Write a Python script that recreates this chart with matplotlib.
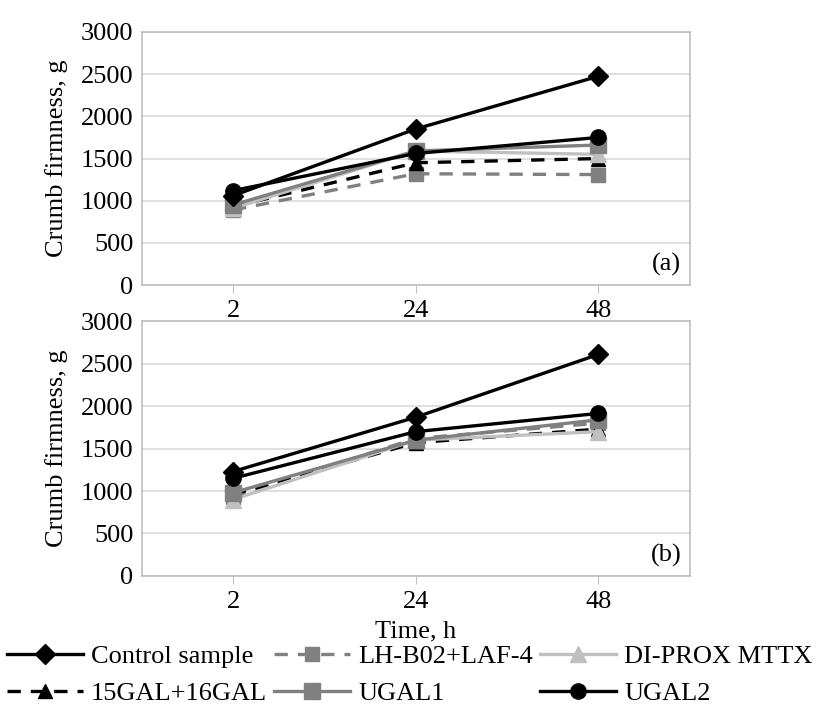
import numpy as np
import matplotlib
matplotlib.use('Agg')
import matplotlib.pyplot as plt

plt.rcParams['font.family'] = ['Liberation Serif', 'DejaVu Serif']

times = ['2', '24', '48']
series_names = ['Control sample', 'LH-B02+LAF-4', 'DI-PROX MTTX',
                '15GAL+16GAL', 'UGAL1', 'UGAL2']

# panel (a)
control_a = [1060, 1850, 2475]
lhb02_a = [890, 1320, 1310]
diprox_a = [910, 1590, 1550]
gal15_a = [930, 1450, 1500]
ugal1_a = [950, 1590, 1660]
ugal2_a = [1120, 1560, 1750]

# panel (b)
control_b = [1230, 1870, 2610]
lhb02_b = [930, 1620, 1800]
diprox_b = [900, 1600, 1700]
gal15_b = [960, 1570, 1730]
ugal1_b = [980, 1600, 1840]
ugal2_b = [1150, 1700, 1915]

styles = {
    'Control sample': dict(color='black', ls='-', marker='D', ms=10),
    'LH-B02+LAF-4': dict(color='#808080', ls=(0, (4, 3)), marker='s', ms=10),
    'DI-PROX MTTX': dict(color='#c0c0c0', ls='-', marker='^', ms=11),
    '15GAL+16GAL': dict(color='black', ls=(0, (4, 3)), marker='^', ms=10),
    'UGAL1': dict(color='#808080', ls='-', marker='s', ms=11),
    'UGAL2': dict(color='black', ls='-', marker='o', ms=11),
}

fig = plt.figure(figsize=(8.19, 7.11), dpi=100)
ax_a = fig.add_axes([0.173, 0.599, 0.669, 0.356])
ax_b = fig.add_axes([0.173, 0.190, 0.669, 0.358])

panels = [
    (ax_a, [control_a, lhb02_a, diprox_a, gal15_a, ugal1_a, ugal2_a], '(a)'),
    (ax_b, [control_b, lhb02_b, diprox_b, gal15_b, ugal1_b, ugal2_b], '(b)'),
]

x = np.arange(len(times))
handles = {}
draw_order = ['LH-B02+LAF-4', '15GAL+16GAL', 'DI-PROX MTTX', 'UGAL1',
              'UGAL2', 'Control sample']
for ax, data, tag in panels:
    values = dict(zip(series_names, data))
    for name in draw_order:
        st = styles[name]
        line, = ax.plot(x, values[name], color=st['color'], linestyle=st['ls'],
                        marker=st['marker'], markersize=st['ms'], lw=2.4,
                        markerfacecolor=st['color'], markeredgecolor=st['color'],
                        label=name)
        handles[name] = line
    ax.set_xlim(-0.5, 2.5)
    ax.set_ylim(0, 3000)
    ax.set_yticks(range(0, 3001, 500))
    ax.set_xticks(x)
    ax.set_xticklabels(times)
    ax.grid(axis='y', color='#d9d9d9', lw=1.2)
    ax.set_axisbelow(True)
    for sp in ax.spines.values():
        sp.set_color('#bfbfbf')
        sp.set_linewidth(1.2)
    ax.tick_params(axis='y', length=0, labelsize=19, pad=6)
    ax.tick_params(axis='x', length=6, color='#bfbfbf', labelsize=19, pad=5)
    ax.set_ylabel('Crumb firmness, g', fontsize=19, labelpad=9)
    ax.text(0.985, 0.035, tag, transform=ax.transAxes, ha='right', va='bottom',
            fontsize=19)

ax_b.set_xlabel('Time, h', fontsize=19, labelpad=5)

# legend is filled row-wise in the picture, matplotlib fills column-wise
order = ['Control sample', '15GAL+16GAL', 'LH-B02+LAF-4', 'UGAL1',
         'DI-PROX MTTX', 'UGAL2']
fig.legend([handles[n] for n in order], order, ncol=3, loc='lower center',
           bbox_to_anchor=(0.5, -0.014), frameon=False, fontsize=19,
           handlelength=2.9, handletextpad=0.3, columnspacing=0.25,
           labelspacing=0.5, borderaxespad=0.2)

plt.savefig('out.png', dpi=100)
